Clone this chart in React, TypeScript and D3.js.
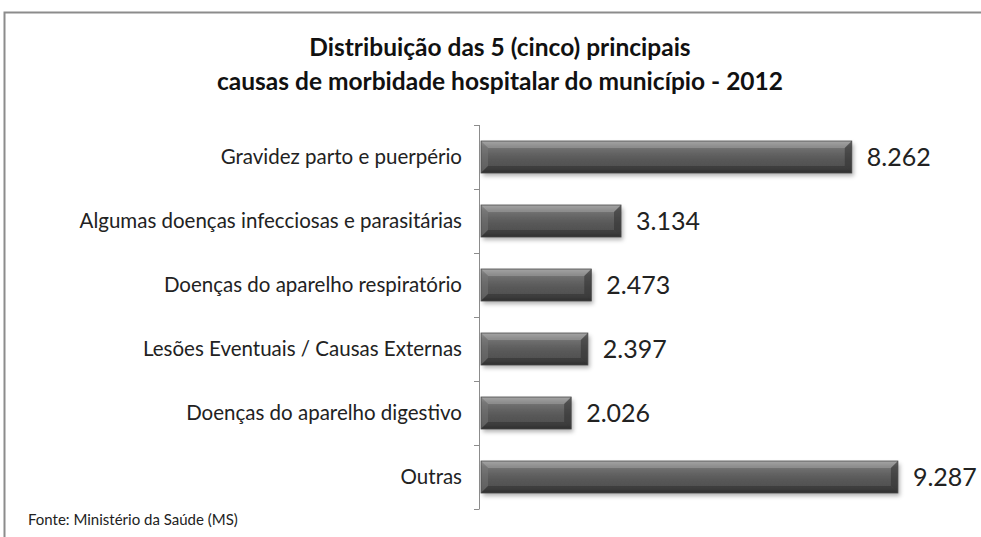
import { useEffect, useRef } from 'react'
import * as d3 from 'd3'

const categories = [
  'Gravidez parto e puerpério',
  'Algumas doenças infecciosas e parasitárias',
  'Doenças do aparelho respiratório',
  'Lesões Eventuais / Causas Externas',
  'Doenças do aparelho digestivo',
  'Outras',
]
const values = [8262, 3134, 2473, 2397, 2026, 9287]
const valueLabels = ['8.262', '3.134', '2.473', '2.397', '2.026', '9.287']
const titleLines = [
  'Distribuição das 5 (cinco) principais',
  'causas de morbidade hospitalar do município - 2012',
]
const source = 'Fonte: Ministério da Saúde (MS)'

const width = 981
const height = 537
const font = 'Lato, "Open Sans", sans-serif'

export default function App() {
  const svgRef = useRef<SVGSVGElement>(null)

  useEffect(() => {
    if (!svgRef.current) return
    const svg = d3.select(svgRef.current)
    svg.selectAll('*').remove()

    const defs = svg.append('defs')
    const grad = defs.append('linearGradient')
      .attr('id', 'barGrad').attr('x1', 0).attr('y1', 0).attr('x2', 0).attr('y2', 1)
    grad.append('stop').attr('offset', '0%').attr('stop-color', '#a0a0a0')
    grad.append('stop').attr('offset', '18%').attr('stop-color', '#737373')
    grad.append('stop').attr('offset', '50%').attr('stop-color', '#5c5c5c')
    grad.append('stop').attr('offset', '85%').attr('stop-color', '#4e4e4e')
    grad.append('stop').attr('offset', '100%').attr('stop-color', '#333')
    const shadow = defs.append('filter').attr('id', 'shadow')
      .attr('x', '-5%').attr('y', '-30%').attr('width', '115%').attr('height', '180%')
    shadow.append('feDropShadow').attr('dx', 2).attr('dy', 3).attr('stdDeviation', 2)
      .attr('flood-color', '#000').attr('flood-opacity', 0.3)

    // frame: only top and left edges are in view
    svg.append('rect').attr('width', width).attr('height', height).attr('fill', '#fff')
    svg.append('path')
      .attr('d', `M4.5,${height} V12.5 H${width}`)
      .attr('fill', 'none').attr('stroke', '#8c8c8c').attr('stroke-width', 2)

    const title = svg.append('text')
      .attr('text-anchor', 'middle').attr('font-family', font)
      .attr('font-weight', 'bold').attr('font-size', 24.5).attr('fill', '#111')
    titleLines.forEach((t, i) => {
      title.append('tspan').attr('x', 500).attr('y', 56 + i * 34).text(t)
    })

    const x = d3.scaleLinear().domain([0, 10000]).range([480, 930])
    const y = d3.scaleBand().domain(categories).range([125, 509]).paddingInner(0.5).paddingOuter(0.25)

    // axis
    const axis = svg.append('g').attr('stroke', '#8c8c8c').attr('stroke-width', 1)
    axis.append('line').attr('x1', 479.5).attr('x2', 479.5).attr('y1', 125).attr('y2', 509)
    const step = y.step()
    d3.range(categories.length + 1).forEach(i => {
      const yy = 125 + i * step
      axis.append('line').attr('x1', 474).attr('x2', 479.5)
        .attr('y1', Math.round(yy) + 0.5).attr('y2', Math.round(yy) + 0.5)
    })

    const bw = y.bandwidth()
    const bars = svg.append('g')
    categories.forEach((c, i) => {
      const x0 = x(0) + 1
      const x1 = x(values[i])
      const y0 = y(c) || 0
      const g = bars.append('g')
      g.append('rect').attr('x', x0).attr('y', y0).attr('width', x1 - x0).attr('height', bw)
        .attr('fill', 'url(#barGrad)').attr('filter', 'url(#shadow)')
      // bevels
      const b = 7
      g.append('polygon')
        .attr('points', `${x0},${y0} ${x1},${y0} ${x1 - b},${y0 + b} ${x0 + b},${y0 + b}`)
        .attr('fill', '#a8a8a8').attr('opacity', 0.5)
      g.append('polygon')
        .attr('points', `${x1},${y0} ${x1},${y0 + bw} ${x1 - b},${y0 + bw - b} ${x1 - b},${y0 + b}`)
        .attr('fill', '#2f2f2f').attr('opacity', 0.55)
      g.append('polygon')
        .attr('points', `${x0},${y0} ${x0 + b},${y0 + b} ${x0 + b},${y0 + bw - b} ${x0},${y0 + bw}`)
        .attr('fill', '#7a7a7a').attr('opacity', 0.45)
      g.append('polygon')
        .attr('points', `${x0},${y0 + bw} ${x0 + b},${y0 + bw - b} ${x1 - b},${y0 + bw - b} ${x1},${y0 + bw}`)
        .attr('fill', '#2a2a2a').attr('opacity', 0.45)
      g.append('rect').attr('x', x0).attr('y', y0).attr('width', x1 - x0).attr('height', bw)
        .attr('fill', 'none').attr('stroke', '#4a4a4a').attr('stroke-width', 0.8)

      svg.append('text')
        .attr('x', x1 + 15).attr('y', y0 + bw / 2).attr('dy', '0.35em')
        .attr('font-family', font).attr('font-size', 25).attr('fill', '#222')
        .text(valueLabels[i])

      svg.append('text')
        .attr('x', 462).attr('y', y0 + bw / 2).attr('dy', '0.35em')
        .attr('text-anchor', 'end')
        .attr('font-family', font).attr('font-size', 20.5).attr('fill', '#222')
        .text(c)
    })

    svg.append('text')
      .attr('x', 28).attr('y', 525)
      .attr('font-family', font).attr('font-size', 15).attr('fill', '#222')
      .text(source)
  }, [])

  return (
    <svg ref={svgRef} width={width} height={height}
      style={{ position: 'absolute', left: 0, top: 0, display: 'block', overflow: 'hidden' }} />
  )
}
